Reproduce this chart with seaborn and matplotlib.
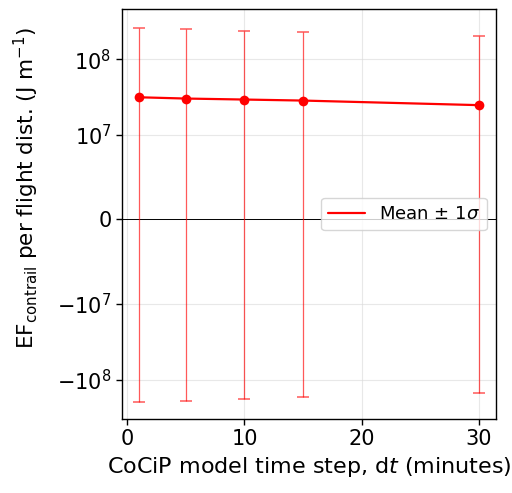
import numpy as np
import pandas as pd
import matplotlib
matplotlib.use("Agg")
import matplotlib.pyplot as plt
from matplotlib.lines import Line2D
import seaborn as sns

sns.set_style("white")
plt.rcParams['font.family'] = ['DejaVu Sans']
plt.rcParams.update({"text.color": "black", "axes.labelcolor": "black",
                     "xtick.color": "black", "ytick.color": "black"})

# time step (minutes), mean EF per flight distance and its std
dt = [1, 5, 10, 15, 30]
ef_mean = [3.15e7, 3.03e7, 2.94e7, 2.85e7, 2.48e7]
ef_std = [2.27e8, 2.19e8, 2.09e8, 1.99e8, 1.76e8]

df = pd.DataFrame({"dt": dt, "mean": ef_mean, "std": ef_std})

fig = plt.figure(figsize=(5.12, 4.93), dpi=100)
ax = fig.add_axes([0.238, 0.150, 0.731, 0.832])

# error bars (mean +/- 1 sigma)
ax.errorbar(df["dt"], df["mean"], yerr=df["std"], fmt="none", ecolor="red",
            elinewidth=0.9, capsize=4.5, capthick=1.1, alpha=0.65, zorder=3)
sns.lineplot(data=df, x="dt", y="mean", color="red", marker="o", markersize=7,
             markeredgewidth=0, linewidth=1.6, ax=ax, zorder=4)

ax.axhline(0, color="black", linewidth=0.7, zorder=2)
ax.set_yscale("symlog", linthresh=1e7)
ax.set_ylim(-3.3e8, 4.6e8)
ax.set_xlim(-0.45, 31.45)
ax.set_yticks([-1e8, -1e7, 0, 1e7, 1e8])
ax.set_xticks([0, 10, 20, 30])

ax.grid(True, color="#d9d9d9", linewidth=0.8, alpha=0.6)
for s in ax.spines.values():
    s.set_color("black")
    s.set_linewidth(1.0)
ax.tick_params(axis="both", which="both", direction="out", length=4, width=1,
               labelsize=15, left=True, bottom=True, color="black")
ax.minorticks_off()

ax.set_xlabel("CoCiP model time step, d$t$ (minutes)", fontsize=16)
ax.set_ylabel("EF$_{\\mathrm{contrail}}$ per flight dist. (J m$^{-1}$)", fontsize=15.5)
ax.yaxis.set_label_coords(-0.215, 0.563)

handle = Line2D([], [], color="red", linewidth=1.6)
ax.legend([handle], ["Mean $\\pm$ 1$\\sigma$"], loc="center right", fontsize=13,
          frameon=True, fancybox=True, bbox_to_anchor=(1.0, 0.5))

fig.savefig("out.png", dpi=100)
